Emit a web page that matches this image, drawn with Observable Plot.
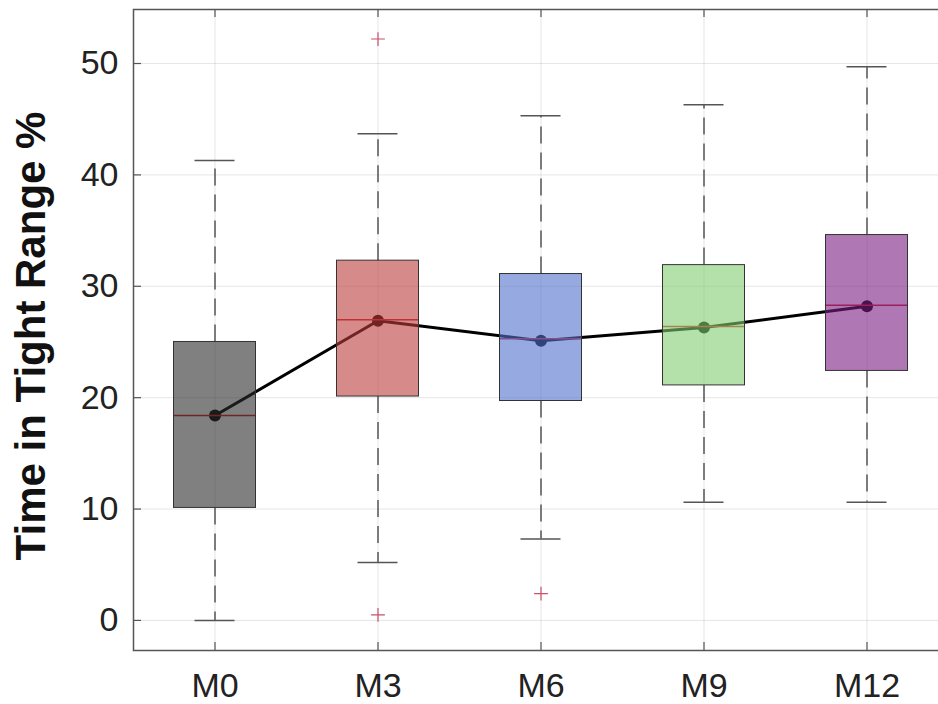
<!DOCTYPE html>
<html><head><meta charset="utf-8">
<script src="https://cdn.jsdelivr.net/npm/d3@7"></script>
<script src="https://cdn.jsdelivr.net/npm/@observablehq/plot@0.6"></script>
<style>
html,body{margin:0;padding:0;background:#fff;}
#chart svg{display:block;}
</style></head><body><div id="chart"></div>
<script>
const categories = ["M0", "M3", "M6", "M9", "M12"];
const q1 = [10.1, 20.1, 19.7, 21.1, 22.4];
const q3 = [25.0, 32.3, 31.1, 31.9, 34.6];
const medians = [18.4, 27.0, 25.3, 26.4, 28.3];
const whiskerLow = [0.0, 5.2, 7.3, 10.6, 10.6];
const whiskerHigh = [41.3, 43.7, 45.3, 46.3, 49.7];
const means = [18.4, 26.9, 25.1, 26.3, 28.2];
const outlierCats = ["M3", "M3", "M6"];
const outlierValues = [52.2, 0.5, 2.4];
const boxColors = ["#2b2b2b", "#bb3c3c", "#5071cd", "#82cd71", "#7a1e82"];
const yTicks = [0, 10, 20, 30, 40, 50];
const yLabel = "Time in Tight Range %";

const rows = categories.map((c, i) => ({
  cat: c, q1: q1[i], q3: q3[i], med: medians[i], lo: whiskerLow[i], hi: whiskerHigh[i], mean: means[i], color: boxColors[i]
}));
const outliers = outlierCats.map((c, i) => ({cat: c, v: outlierValues[i]}));

const W = 938, H = 704, ML = 133, MR = -10, MT = 9, MB = 54;
const frameW = W - ML - MR, frameH = H - MT - MB;

const chart = Plot.plot({
  width: W, height: H,
  marginLeft: ML, marginRight: MR, marginTop: MT, marginBottom: MB,
  style: {fontFamily: "'Liberation Sans', Arial, Helvetica, sans-serif", background: "#fff", color: "#222"},
  x: {type: "band", domain: categories, padding: 0},
  y: {domain: [-2.7, 54.85]},
  marks: [
    Plot.gridY(yTicks, {stroke: "#000", strokeOpacity: 0.1, strokeWidth: 1}),
    Plot.gridX(categories, {stroke: "#000", strokeOpacity: 0.1, strokeWidth: 1}),
    Plot.ruleX(rows, {x: "cat", y1: "q3", y2: "hi", stroke: "#555", strokeWidth: 1.5, strokeDasharray: "17,9"}),
    Plot.ruleX(rows, {x: "cat", y1: "q1", y2: "lo", stroke: "#555", strokeWidth: 1.5, strokeDasharray: "17,9"}),
    Plot.tickY(rows, {x: "cat", y: "hi", stroke: "#555", strokeWidth: 1.5, insetLeft: 61.5, insetRight: 61.5}),
    Plot.tickY(rows, {x: "cat", y: "lo", stroke: "#555", strokeWidth: 1.5, insetLeft: 61.5, insetRight: 61.5}),
    Plot.dot(outliers, {x: "cat", y: "v", symbol: "plus", r: 4.5, stroke: "#c8506a", strokeWidth: 1.2}),
    Plot.line(rows, {x: "cat", y: "mean", stroke: "#000", strokeWidth: 3}),
    Plot.dot(rows, {x: "cat", y: "mean", r: 6, fill: "#000"}),
    Plot.tickY(rows, {x: "cat", y: "med", stroke: "#d02020", strokeWidth: 1.5, insetLeft: 40.5, insetRight: 40.5}),
    Plot.barY(rows, {x: "cat", y1: "q1", y2: "q3", fill: "color", fillOpacity: 0.6, stroke: "#333", strokeWidth: 1, insetLeft: 40.5, insetRight: 40.5}),
    Plot.frame({stroke: "#555", strokeWidth: 1.5}),
    Plot.tickY(yTicks, {y: d => d, stroke: "#555", strokeWidth: 1.2, insetRight: frameW - 8}),
    Plot.tickX(categories, {x: d => d, stroke: "#555", strokeWidth: 1.2, insetTop: frameH - 8}),
    Plot.tickX(categories, {x: d => d, stroke: "#555", strokeWidth: 1.2, insetBottom: frameH - 8}),
    Plot.axisY(yTicks, {tickSize: 0, tickPadding: 15, fontSize: 34, label: null, fill: "#222"}),
    Plot.axisX(categories, {tickSize: 0, tickPadding: 22, fontSize: 34, label: null, fill: "#222"}),
    Plot.text([yLabel], {text: d => d, frameAnchor: "left", textAnchor: "middle", rotate: -90, dx: -102, dy: 6, fontSize: 42, fontWeight: "bold", fill: "#111"})
  ]
});
document.getElementById("chart").appendChild(chart);
</script></body></html>
